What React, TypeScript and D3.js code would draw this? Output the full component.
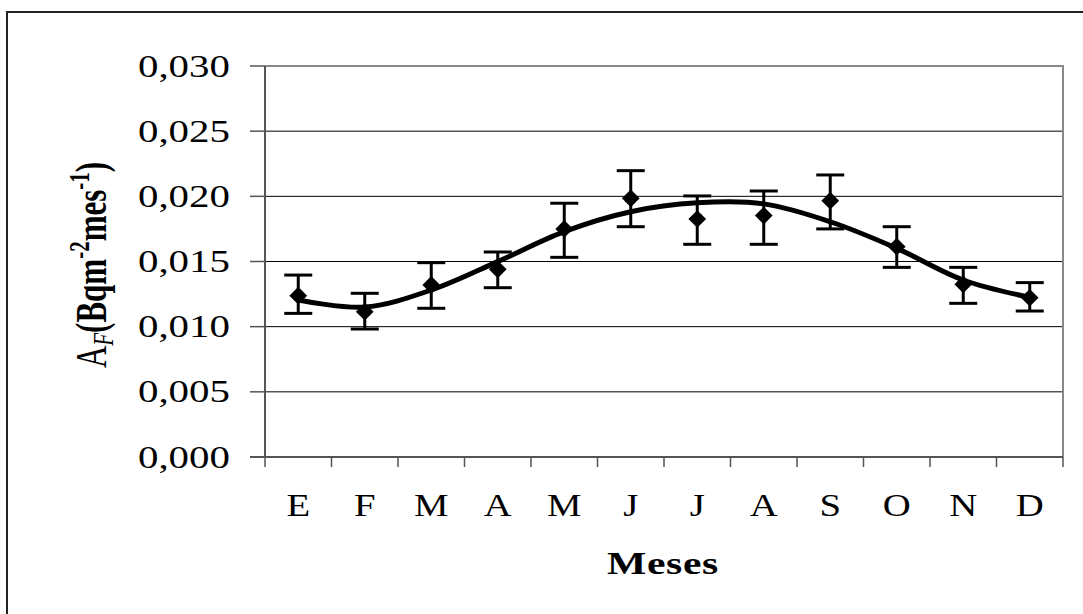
import React from "react";
import * as d3 from "d3";

const months = ["E", "F", "M", "A", "M", "J", "J", "A", "S", "O", "N", "D"];
const values = [0.01238, 0.01115, 0.0132, 0.0144, 0.0175, 0.01985, 0.01826, 0.01852, 0.01967, 0.01614, 0.01325, 0.01222];
const errUpper = [0.01396, 0.01256, 0.01491, 0.01573, 0.01947, 0.02197, 0.02003, 0.02041, 0.02164, 0.01767, 0.01455, 0.01338];
const errLower = [0.01102, 0.00982, 0.01141, 0.01299, 0.01532, 0.01767, 0.01632, 0.01632, 0.0175, 0.01455, 0.01179, 0.0112];
const trend = [0.01205, 0.01150, 0.01281, 0.01499, 0.01729, 0.01882, 0.01950, 0.01942, 0.01805, 0.01601, 0.01358, 0.01225];
const yTicks = [0, 0.005, 0.01, 0.015, 0.02, 0.025, 0.03];

const W = 1083;
const H = 614;
const left = 265;
const right = 1063;
const top = 66;
const bottom = 457;
const SX = 1.25;

export default function App() {
  const idx = months.map((_, i) => i);
  const x = d3.scaleBand<number>().domain(idx).range([left, right]).padding(0);
  const cx = (i: number) => (x(i) as number) + x.bandwidth() / 2;
  const y = d3.scaleLinear().domain([0, 0.03]).range([bottom, top]);
  const fmt = (v: number) => v.toFixed(3).replace(".", ",");
  const line = d3
    .line<number>()
    .x((_, i) => cx(i))
    .y((d) => y(d))
    .curve(d3.curveCatmullRom.alpha(0.5));
  const font = "'Liberation Serif', 'Times New Roman', serif";
  const diamond = d3.symbol().type(d3.symbolDiamond2).size(200)();

  return (
    <svg
      width={W}
      height={H}
      style={{ position: "absolute", left: 0, top: 0, background: "#fff" }}
      fontFamily={font}
    >
      <rect x={0} y={0} width={W} height={H} fill="#fff" />
      {/* outer frame */}
      <path d={`M7,${H + 5} V12 H${W + 5}`} fill="none" stroke="#222" strokeWidth={2} />
      {/* grid lines */}
      {yTicks.slice(1, -1).map((t) => (
        <line key={t} x1={left} x2={right} y1={y(t)} y2={y(t)} stroke="#000" strokeWidth={1} />
      ))}
      {/* plot border top/right */}
      <path d={`M${left},${top} H${right} V${bottom}`} fill="none" stroke="#888" strokeWidth={2} />
      {/* y axis */}
      <line x1={left} x2={left} y1={top} y2={bottom} stroke="#555" strokeWidth={2} />
      {yTicks.map((t) => (
        <g key={t}>
          <line x1={left - 15} x2={left} y1={y(t)} y2={y(t)} stroke="#555" strokeWidth={1.5} />
          <text
            transform={`translate(${left - 35},${y(t) + 10.5}) scale(1.32,1)`}
            textAnchor="end"
            fontSize={31}
            fill="#000"
          >
            {fmt(t)}
          </text>
        </g>
      ))}
      {/* x axis */}
      <line x1={left - 15} x2={right} y1={bottom} y2={bottom} stroke="#555" strokeWidth={2} />
      {d3.range(months.length + 1).map((i) => {
        const xx = i < months.length ? (x(i) as number) : right;
        return <line key={i} x1={xx} x2={xx} y1={bottom} y2={bottom + 10} stroke="#555" strokeWidth={1.5} />;
      })}
      {months.map((m, i) => (
        <text
          key={i}
          transform={`translate(${cx(i)},516) scale(${SX},1)`}
          textAnchor="middle"
          fontSize={31}
          fill="#000"
        >
          {m}
        </text>
      ))}
      <text
        transform={`translate(663,574) scale(1.3,1)`}
        textAnchor="middle"
        fontSize={32}
        fontWeight="bold"
        letterSpacing={0.5}
      >
        Meses
      </text>
      {/* y label */}
      <text
        transform={`translate(106,265) rotate(-90) scale(1,1.4)`}
        textAnchor="middle"
        fontSize={31}
      >
        <tspan>A</tspan>
        <tspan fontStyle="italic" fontSize={21} dy={5}>F</tspan>
        <tspan fontWeight="bold" dy={-5}>(Bqm</tspan>
        <tspan fontWeight="bold" fontSize={21} dy={-12}>-2</tspan>
        <tspan fontWeight="bold" dy={12}>mes</tspan>
        <tspan fontWeight="bold" fontSize={21} dy={-12}>-1</tspan>
        <tspan fontWeight="bold" dy={12}>)</tspan>
      </text>
      {/* error bars */}
      {months.map((_, i) => (
        <g key={i} stroke="#000" strokeWidth={3}>
          <line x1={cx(i)} x2={cx(i)} y1={y(errUpper[i])} y2={y(errLower[i])} />
          <line x1={cx(i) - 14} x2={cx(i) + 14} y1={y(errUpper[i])} y2={y(errUpper[i])} />
          <line x1={cx(i) - 14} x2={cx(i) + 14} y1={y(errLower[i])} y2={y(errLower[i])} />
        </g>
      ))}
      {/* trend line */}
      <path d={line(trend) || ""} fill="none" stroke="#000" strokeWidth={5} strokeLinejoin="round" />
      {/* markers */}
      {values.map((v, i) => (
        <path key={i} d={diamond || ""} transform={`translate(${cx(i)},${y(v)})`} fill="#000" />
      ))}
    </svg>
  );
}
